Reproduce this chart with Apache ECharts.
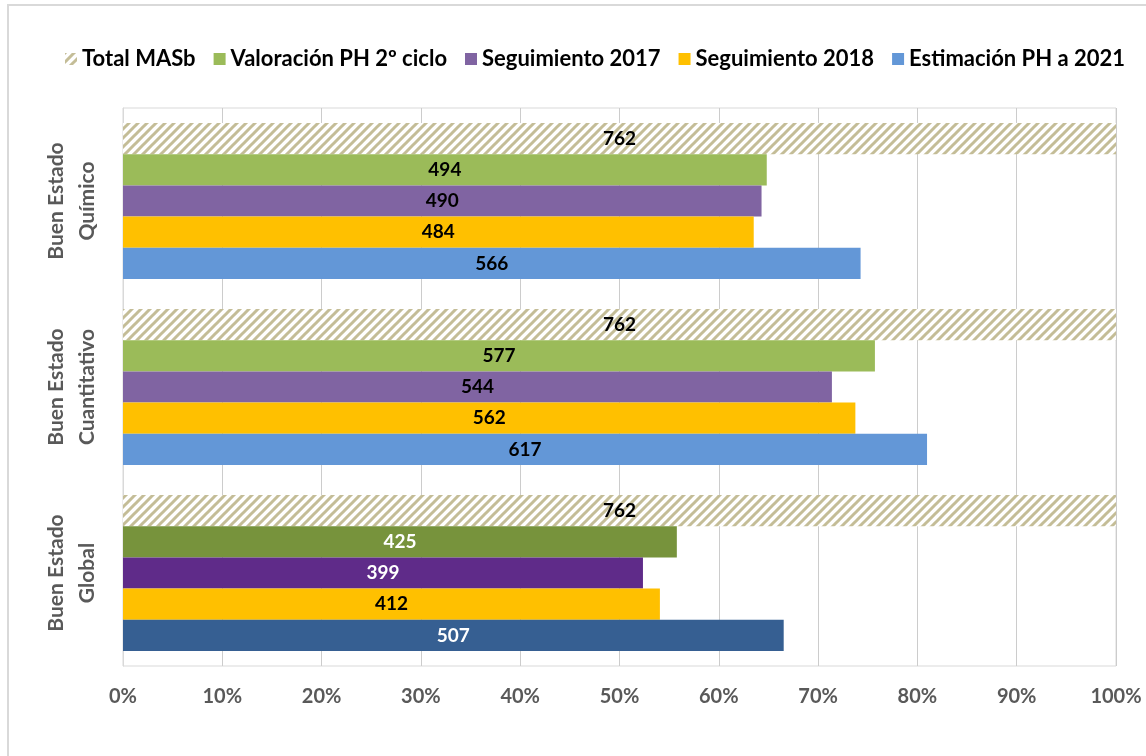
<!DOCTYPE html>
<html>
<head>
<meta charset="utf-8">
<script src="https://cdn.jsdelivr.net/npm/echarts@6/dist/echarts.min.js"></script>
<style>
html,body{margin:0;padding:0;background:#fff;}
#chart{width:1146px;height:756px;}
</style>
</head>
<body>
<div id="chart"></div>
<script>
// ---- data ----
const categories = ['Buen Estado\nQuímico', 'Buen Estado\nCuantitativo', 'Buen Estado\nGlobal'];
const seriesNames = ['Total MASb', 'Valoración PH 2º ciclo', 'Seguimiento 2017', 'Seguimiento 2018', 'Estimación PH a 2021'];
const totalMASb = [762, 762, 762];
const valoracionPH2 = [494, 577, 425];
const seguimiento2017 = [490, 544, 399];
const seguimiento2018 = [484, 562, 412];
const estimacion2021 = [566, 617, 507];
const xTickLabels = ['0%', '10%', '20%', '30%', '40%', '50%', '60%', '70%', '80%', '90%', '100%'];

// ---- styles ----
const baseColors = [null, '#9BBB59', '#8064A2', '#FFC000', '#6397D7'];
const globalColors = [null, '#77933C', '#5F2B89', '#FFC000', '#365F92'];
const globalLabelColors = ['#000', '#fff', '#fff', '#000', '#fff'];
const FONT = 'Lato, "Open Sans", sans-serif';

function hatchPattern() {
  const s = 9;
  const c = document.createElement('canvas');
  c.width = s; c.height = s;
  const g = c.getContext('2d');
  g.fillStyle = '#fff';
  g.fillRect(0, 0, s, s);
  g.strokeStyle = '#C4BD97';
  g.lineWidth = 3;
  g.beginPath();
  g.moveTo(0, s); g.lineTo(s, 0);
  g.moveTo(-2, 2); g.lineTo(2, -2);
  g.moveTo(s - 2, s + 2); g.lineTo(s + 2, s - 2);
  g.stroke();
  return { image: c, repeat: 'repeat' };
}
const hatch = hatchPattern();

const allCounts = [totalMASb, valoracionPH2, seguimiento2017, seguimiento2018, estimacion2021];

const series = allCounts.map((arr, si) => ({
  name: seriesNames[si],
  type: 'bar',
  barGap: '0%',
  barCategoryGap: '16%',
  itemStyle: { color: si === 0 ? hatch : baseColors[si] },
  label: {
    show: true,
    position: 'inside',
    fontFamily: FONT,
    fontWeight: 'bold',
    fontSize: 19,
    color: '#000',
    formatter: p => String(arr[p.dataIndex])
  },
  data: arr.map((v, ci) => {
    const item = { value: v / totalMASb[ci] * 100 };
    if (ci === 2) {
      if (si !== 0) item.itemStyle = { color: globalColors[si] };
      item.label = { color: globalLabelColors[si] };
    }
    return item;
  })
}));

const chart = echarts.init(document.getElementById('chart'));
chart.setOption({
  animation: false,
  backgroundColor: '#fff',
  graphic: [{
    type: 'rect',
    shape: { x: 8, y: 5, width: 1200, height: 800 },
    style: { fill: 'none', stroke: '#D9D9D9', lineWidth: 2 },
    silent: true
  }],
  legend: {
    top: 43,
    left: 60,
    itemWidth: 12,
    itemHeight: 12,
    itemGap: 18,
    icon: 'rect',
    textStyle: { fontFamily: FONT, fontWeight: 'bold', fontSize: 22, color: '#000' },
    data: seriesNames
  },
  grid: {
    left: 123, right: 30, top: 108, bottom: 90,
    show: true, borderColor: '#D9D9D9', borderWidth: 1
  },
  xAxis: {
    type: 'value',
    min: 0, max: 100, interval: 10,
    axisLine: { show: false },
    axisTick: { show: false },
    splitLine: { show: true, lineStyle: { color: '#CCCCCC', width: 1 } },
    axisLabel: {
      margin: 21,
      fontFamily: FONT, fontWeight: 'bold', fontSize: 20, color: '#595959',
      formatter: (v) => xTickLabels[Math.round(v / 10)]
    }
  },
  yAxis: {
    type: 'category',
    inverse: true,
    data: categories,
    axisLine: { show: true, lineStyle: { color: '#D9D9D9' } },
    axisTick: { show: false },
    axisLabel: {
      rotate: 90,
      margin: 20,
      fontFamily: FONT, fontWeight: 'bold', fontSize: 21, color: '#595959', lineHeight: 31,
      align: 'center'
    }
  },
  series: series
});
</script>
</body>
</html>
